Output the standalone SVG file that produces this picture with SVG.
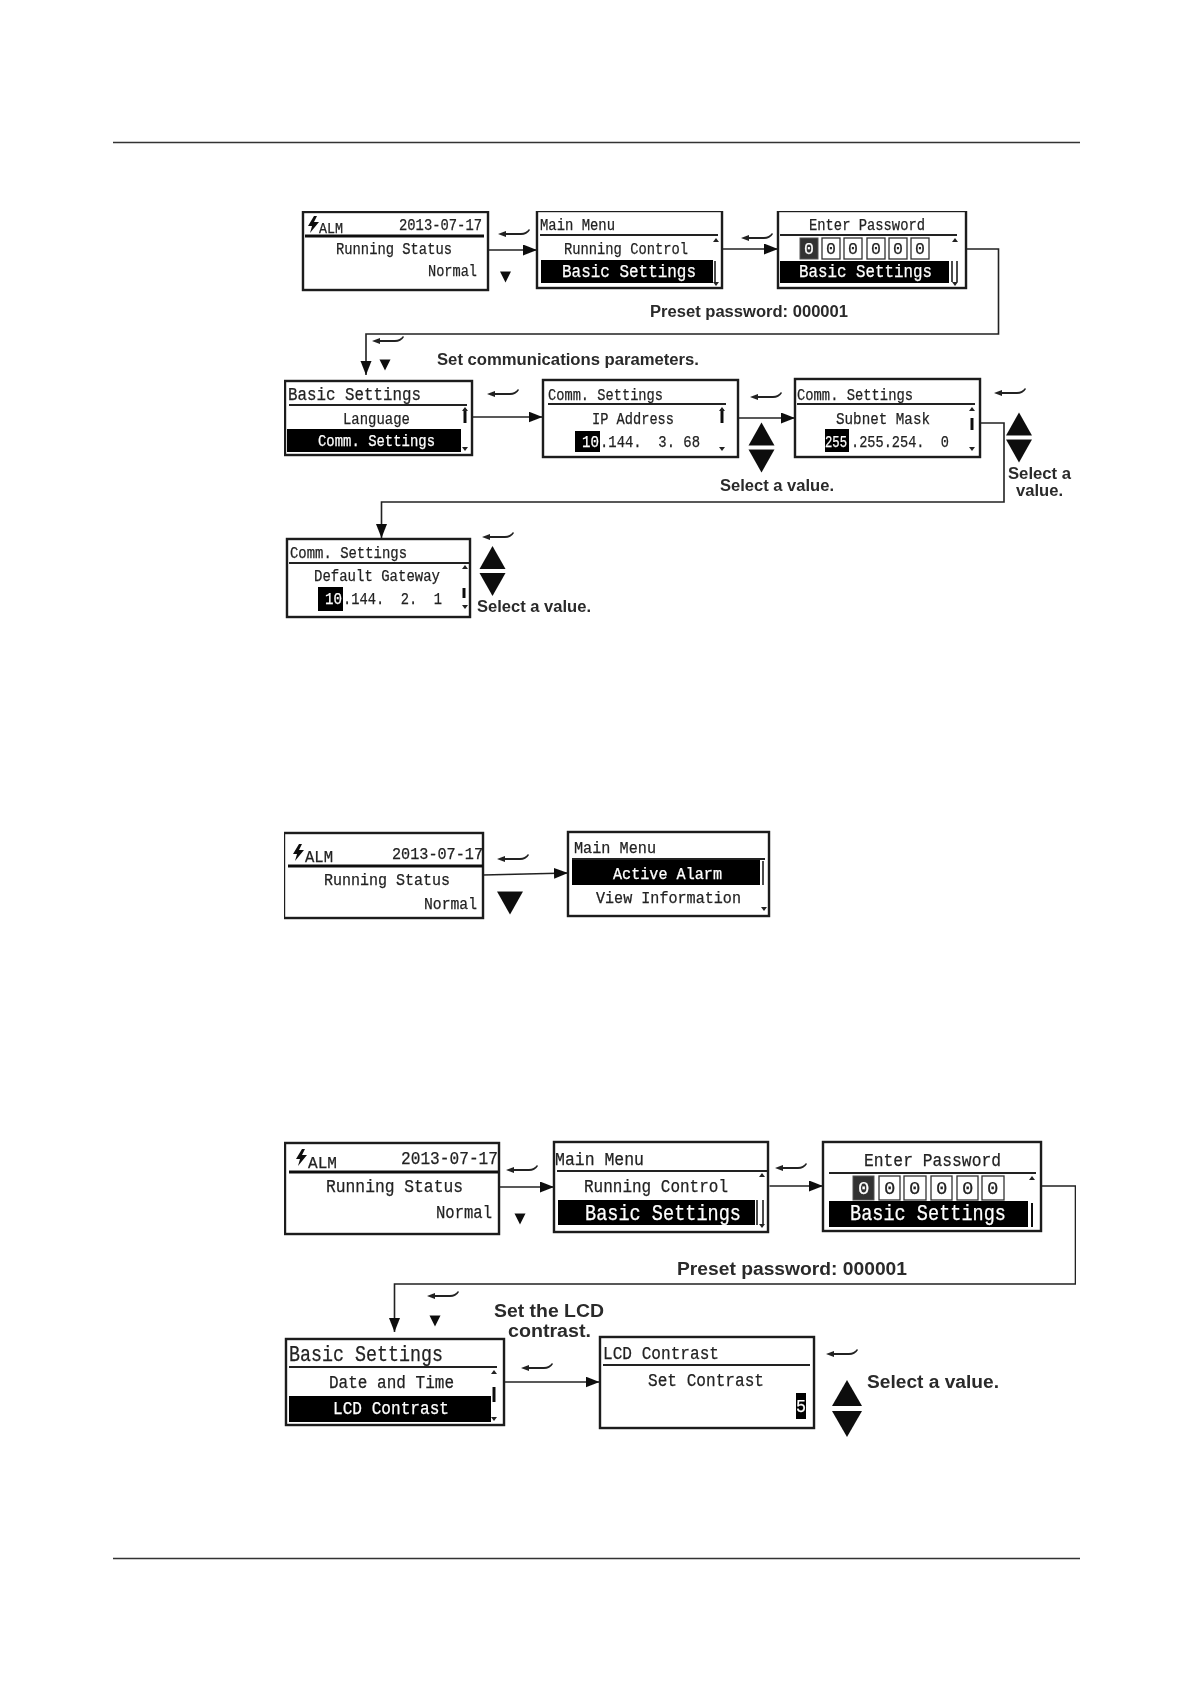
<svg xmlns="http://www.w3.org/2000/svg" width="1191" height="1684" viewBox="0 0 1191 1684">
<style>
.b{fill:#fff;stroke:#1a1a1a;stroke-width:2.4}
.d{stroke:#222;stroke-width:1.8;fill:none}
.dk{stroke:#111;stroke-width:3;fill:none}
.h{fill:#050505;stroke:none}
.t{font-family:"Liberation Mono",monospace;font-size:16.5px;fill:#222;stroke:#222;stroke-width:.25}
.tl{font-family:"Liberation Mono",monospace;font-size:19px;fill:#222;stroke:#222;stroke-width:.25}
.w{fill:#fff;stroke:#fff}
.l{font-family:"Liberation Sans",Arial,sans-serif;font-weight:700;font-size:16px;fill:#2a2a2a}
.c{fill:none;stroke:#222;stroke-width:1.6}
.dg{fill:#fff;stroke:#333;stroke-width:1.3}
.bar{stroke:#111;stroke-width:3;fill:none}
</style>
<defs>
<marker id="a" markerUnits="userSpaceOnUse" markerWidth="15" markerHeight="12" refX="14" refY="5.500" orient="auto"><path d="M0 0L14 5.500L0 11Z" fill="#111"/></marker>
<path id="hook" d="M0 5L8 2V4H23Q28 4 31 0L32 1Q29 6 23 6H8V8Z" fill="#222"/>
<path id="td" d="M-5.500 -5.500H5.500L0 5.500Z" fill="#111"/>
<path id="bu" d="M-13 11L0 -12L13 11Z" fill="#111"/>
<path id="bd" d="M-13 -11H13L0 12Z" fill="#111"/>
<path id="bu2" d="M-15 13L0 -13L15 13Z" fill="#111"/>
<path id="bd2" d="M-15 -13H15L0 13Z" fill="#111"/>
<path id="su" d="M-3 2L0 -2L3 2Z" fill="#222"/>
<path id="sd" d="M-3 -2H3L0 2Z" fill="#222"/>
<path id="bolt" d="M6 0L0 10H4L2 17L11 6H6L9 0Z" fill="#111"/>
<filter id="soft" x="0" y="0" width="100%" height="100%"><feGaussianBlur stdDeviation="0.4"/></filter>
</defs>
<rect width="1191" height="1684" fill="#fff"/>
<g id="page-rules"><path d="M113 142.500H1080M113 1558.500H1080" stroke="#333" stroke-width="1.300" fill="none"/></g>
<g filter="url(#soft)">
<g id="connectors">
<path class="c" d="M488 250H537" marker-end="url(#a)"/>
<path class="c" d="M722 249H778" marker-end="url(#a)"/>
<path class="c" d="M962 249H998.500V334H366V375" marker-end="url(#a)"/>
<path class="c" d="M472 417H542.500" marker-end="url(#a)"/>
<path class="c" d="M738 418H795" marker-end="url(#a)"/>
<path class="c" d="M980 423H1004V502H381.500V538" marker-end="url(#a)"/>
<path class="c" d="M483 875L568 873" marker-end="url(#a)"/>
<path class="c" d="M499 1187H554" marker-end="url(#a)"/>
<path class="c" d="M769.500 1186H823" marker-end="url(#a)"/>
<path class="c" d="M1039 1186H1075.500V1284H394.500V1332" marker-end="url(#a)"/>
<path class="c" d="M504 1382H599.500" marker-end="url(#a)"/>
</g>
<g id="key-symbols">
<use href="#hook" x="498" y="229"/><use href="#td" x="505.500" y="277"/>
<use href="#hook" x="741" y="233"/>
<use href="#hook" x="372" y="336"/><use href="#td" x="385" y="365"/>
<use href="#hook" x="487" y="389"/>
<use href="#hook" x="750" y="392"/><use href="#bu" x="761.500" y="434.500"/><use href="#bd" x="761.500" y="460.500"/>
<use href="#hook" x="994" y="388"/><use href="#bu" x="1019" y="424.500"/><use href="#bd" x="1019" y="450.500"/>
<use href="#hook" x="482" y="532"/><use href="#bu" x="492.500" y="558"/><use href="#bd" x="492.500" y="584"/>
<use href="#hook" x="497" y="854"/><use href="#bd" x="510" y="902.500"/>
<use href="#hook" x="506" y="1165"/><use href="#td" x="520" y="1219"/>
<use href="#hook" x="775" y="1163"/>
<use href="#hook" x="427" y="1291"/><use href="#td" x="435" y="1321"/>
<use href="#hook" x="521" y="1363"/>
<use href="#hook" x="826" y="1349"/><use href="#bu2" x="847" y="1393"/><use href="#bd2" x="847" y="1424"/>
</g>
<g id="labels">
<text class="l" x="650" y="317" textLength="198" lengthAdjust="spacingAndGlyphs">Preset password: 000001</text>
<text class="l" x="437" y="365" textLength="262" lengthAdjust="spacingAndGlyphs">Set communications parameters.</text>
<text class="l" x="720" y="491" textLength="114" lengthAdjust="spacingAndGlyphs">Select a value.</text>
<text class="l" x="1008" y="479" textLength="63" lengthAdjust="spacingAndGlyphs">Select a</text>
<text class="l" x="1016" y="496" textLength="47" lengthAdjust="spacingAndGlyphs">value.</text>
<text class="l" x="477" y="612" textLength="114" lengthAdjust="spacingAndGlyphs">Select a value.</text>
<text class="l" x="677" y="1275" textLength="230" lengthAdjust="spacingAndGlyphs" style="font-size:18px">Preset password: 000001</text>
<text class="l" x="494" y="1317" textLength="110" lengthAdjust="spacingAndGlyphs" style="font-size:18px">Set the LCD</text>
<text class="l" x="508" y="1337" textLength="83" lengthAdjust="spacingAndGlyphs" style="font-size:18px">contrast.</text>
<text class="l" x="867" y="1388" textLength="132" lengthAdjust="spacingAndGlyphs" style="font-size:18px">Select a value.</text>
</g>
<g id="n1">
<rect class="b" x="303" y="212" width="185" height="78"/>
<use href="#bolt" x="308" y="216"/>
<text class="t" x="319" y="233" textLength="24" lengthAdjust="spacingAndGlyphs" style="font-size:14px">ALM</text>
<text class="t" x="399" y="230" textLength="83" lengthAdjust="spacingAndGlyphs">2013-07-17</text>
<path class="dk" d="M305 236H484"/>
<text class="t" x="336" y="254" textLength="116" lengthAdjust="spacingAndGlyphs">Running Status</text>
<text class="t" x="428" y="276" textLength="49" lengthAdjust="spacingAndGlyphs">Normal</text>
</g>
<g id="n2">
<rect class="b" x="537" y="211" width="185" height="77"/>
<text class="t" x="540" y="230" textLength="75" lengthAdjust="spacingAndGlyphs">Main Menu</text>
<path class="d" d="M540 235H718"/>
<text class="t" x="564" y="254" textLength="124" lengthAdjust="spacingAndGlyphs">Running Control</text>
<rect class="h" x="541" y="260" width="172" height="23"/>
<text class="tl w" x="562" y="277" textLength="134" lengthAdjust="spacingAndGlyphs">Basic Settings</text>
<use href="#su" x="716" y="240"/><path class="bar" d="M715 261V282" style="stroke-width:1.500"/><use href="#sd" x="716" y="284"/>
</g>
<g id="n3">
<rect class="b" x="778" y="211" width="188" height="77"/>
<text class="t" x="809" y="230" textLength="116" lengthAdjust="spacingAndGlyphs">Enter Password</text>
<path class="d" d="M780 235H957"/>
<rect x="800" y="238" width="18" height="21" fill="#333" stroke="#555"/>
<rect class="dg" x="822" y="238" width="18" height="21"/><rect class="dg" x="844" y="238" width="18" height="21"/><rect class="dg" x="867" y="238" width="18" height="21"/><rect class="dg" x="889" y="238" width="18" height="21"/><rect class="dg" x="911" y="238" width="18" height="21"/>
<text class="t w" x="804" y="254">0</text><text class="t" x="826" y="254">0</text><text class="t" x="848" y="254">0</text><text class="t" x="871" y="254">0</text><text class="t" x="893" y="254">0</text><text class="t" x="915" y="254">0</text>
<rect class="h" x="780" y="261" width="169" height="22"/>
<text class="tl w" x="799" y="277" textLength="133" lengthAdjust="spacingAndGlyphs">Basic Settings</text>
<use href="#su" x="955" y="240"/><path class="bar" d="M952 261V282M957 261V282" style="stroke-width:1.500"/><use href="#sd" x="955" y="284"/>
</g>
<g id="n4">
<rect class="b" x="285" y="381" width="187" height="74"/>
<text class="tl" x="288" y="400" textLength="133" lengthAdjust="spacingAndGlyphs">Basic Settings</text>
<path class="d" d="M289 405H467"/>
<text class="t" x="343" y="424" textLength="67" lengthAdjust="spacingAndGlyphs">Language</text>
<rect class="h" x="287" y="429" width="174" height="23"/>
<text class="t w" x="318" y="446" textLength="117" lengthAdjust="spacingAndGlyphs">Comm. Settings</text>
<path class="bar" d="M465 409V423"/><use href="#su" x="465" y="409"/><use href="#sd" x="465" y="449"/>
</g>
<g id="n5">
<rect class="b" x="543" y="380" width="195" height="77"/>
<text class="t" x="548" y="400" textLength="115" lengthAdjust="spacingAndGlyphs">Comm. Settings</text>
<path class="d" d="M548 404H726"/>
<text class="t" x="592" y="424" textLength="82" lengthAdjust="spacingAndGlyphs">IP Address</text>
<rect class="h" x="575" y="431" width="25" height="21"/>
<text class="t w" x="582" y="447" textLength="17" lengthAdjust="spacingAndGlyphs">10</text>
<text class="t" x="600" y="447" textLength="100" lengthAdjust="spacingAndGlyphs" xml:space="preserve">.144.  3. 68</text>
<path class="bar" d="M722 409V423"/><use href="#su" x="722" y="409"/><use href="#sd" x="722" y="449"/>
</g>
<g id="n6">
<rect class="b" x="795" y="379" width="185" height="78"/>
<text class="t" x="797" y="400" textLength="116" lengthAdjust="spacingAndGlyphs">Comm. Settings</text>
<path class="d" d="M797 404H975"/>
<text class="t" x="836" y="424" textLength="94" lengthAdjust="spacingAndGlyphs">Subnet Mask</text>
<rect class="h" x="825" y="429" width="24" height="23"/>
<text class="t w" x="825" y="447" textLength="22" lengthAdjust="spacingAndGlyphs">255</text>
<text class="t" x="851" y="447" textLength="98" lengthAdjust="spacingAndGlyphs" xml:space="preserve">.255.254.  0</text>
<use href="#su" x="972" y="409"/><path class="bar" d="M972 418V430"/><use href="#sd" x="972" y="449"/>
</g>
<g id="n7">
<rect class="b" x="287" y="539" width="183" height="78"/>
<text class="t" x="290" y="558" textLength="117" lengthAdjust="spacingAndGlyphs">Comm. Settings</text>
<path class="d" d="M289 563H469"/>
<text class="t" x="314" y="581" textLength="126" lengthAdjust="spacingAndGlyphs">Default Gateway</text>
<rect class="h" x="318" y="587" width="25" height="24"/>
<text class="t w" x="325" y="604" textLength="17" lengthAdjust="spacingAndGlyphs">10</text>
<text class="t" x="343" y="604" textLength="99" lengthAdjust="spacingAndGlyphs" xml:space="preserve">.144.  2.  1</text>
<use href="#su" x="465" y="567"/><path class="bar" d="M464 588V598"/><use href="#sd" x="465" y="607"/>
</g>
<g id="n8">
<rect class="b" x="284" y="833" width="199" height="85"/>
<use href="#bolt" x="293" y="844"/>
<text class="t" x="305" y="862" textLength="28" lengthAdjust="spacingAndGlyphs">ALM</text>
<text class="t" x="392" y="859" textLength="91" lengthAdjust="spacingAndGlyphs">2013-07-17</text>
<path class="dk" d="M288 866H483"/>
<text class="t" x="324" y="885" textLength="126" lengthAdjust="spacingAndGlyphs">Running Status</text>
<text class="t" x="424" y="909" textLength="53" lengthAdjust="spacingAndGlyphs">Normal</text>
</g>
<g id="n9">
<rect class="b" x="568" y="832" width="201" height="84"/>
<text class="t" x="574" y="853" textLength="82" lengthAdjust="spacingAndGlyphs">Main Menu</text>
<path class="d" d="M572 859H765"/>
<rect class="h" x="572" y="860" width="188" height="25"/>
<text class="t w" x="613" y="879" textLength="109" lengthAdjust="spacingAndGlyphs">Active Alarm</text>
<text class="t" x="596" y="903" textLength="145" lengthAdjust="spacingAndGlyphs">View Information</text>
<path class="bar" d="M763 861V885" style="stroke-width:1.500"/><use href="#sd" x="764" y="909"/>
</g>
<g id="n10">
<rect class="b" x="285" y="1143" width="214" height="91"/>
<use href="#bolt" x="296" y="1149"/>
<text class="t" x="308" y="1168" textLength="29" lengthAdjust="spacingAndGlyphs">ALM</text>
<text class="tl" x="401" y="1164" textLength="97" lengthAdjust="spacingAndGlyphs">2013-07-17</text>
<path class="dk" d="M289 1172H498"/>
<text class="tl" x="326" y="1192" textLength="137" lengthAdjust="spacingAndGlyphs">Running Status</text>
<text class="tl" x="436" y="1218" textLength="56" lengthAdjust="spacingAndGlyphs">Normal</text>
</g>
<g id="n11">
<rect class="b" x="554" y="1142" width="214" height="90"/>
<text class="tl" x="555" y="1165" textLength="89" lengthAdjust="spacingAndGlyphs">Main Menu</text>
<path class="d" d="M557 1171H767"/>
<text class="tl" x="584" y="1192" textLength="144" lengthAdjust="spacingAndGlyphs">Running Control</text>
<rect class="h" x="558" y="1200" width="197" height="25"/>
<text class="tl w" x="585" y="1220" textLength="156" lengthAdjust="spacingAndGlyphs" style="font-size:22px">Basic Settings</text>
<use href="#su" x="762" y="1175"/><path class="bar" d="M757 1200V1225M763 1200V1225" style="stroke-width:1.500"/><use href="#sd" x="762" y="1226"/>
</g>
<g id="n12">
<rect class="b" x="823" y="1142" width="218" height="89"/>
<text class="tl" x="864" y="1166" textLength="137" lengthAdjust="spacingAndGlyphs">Enter Password</text>
<path class="d" d="M829 1173H1036"/>
<rect x="853" y="1176" width="21" height="24" fill="#333" stroke="#555"/>
<rect class="dg" x="879" y="1176" width="21" height="24"/><rect class="dg" x="904" y="1176" width="22" height="24"/><rect class="dg" x="931" y="1176" width="21" height="24"/><rect class="dg" x="957" y="1176" width="21" height="24"/><rect class="dg" x="982" y="1176" width="22" height="24"/>
<text class="tl w" x="858" y="1194">0</text><text class="tl" x="884" y="1194">0</text><text class="tl" x="909" y="1194">0</text><text class="tl" x="936" y="1194">0</text><text class="tl" x="962" y="1194">0</text><text class="tl" x="987" y="1194">0</text>
<rect class="h" x="829" y="1201" width="199" height="26"/>
<text class="tl w" x="850" y="1220" textLength="156" lengthAdjust="spacingAndGlyphs" style="font-size:22px">Basic Settings</text>
<use href="#su" x="1032" y="1178"/><path class="bar" d="M1032 1203V1227" style="stroke-width:2"/>
</g>
<g id="n13">
<rect class="b" x="286" y="1339" width="218" height="86"/>
<text class="tl" x="289" y="1361" textLength="154" lengthAdjust="spacingAndGlyphs" style="font-size:22px">Basic Settings</text>
<path class="d" d="M289 1367H497"/>
<text class="tl" x="329" y="1388" textLength="125" lengthAdjust="spacingAndGlyphs">Date and Time</text>
<rect class="h" x="289" y="1396" width="202" height="26"/>
<text class="tl w" x="333" y="1414" textLength="116" lengthAdjust="spacingAndGlyphs">LCD Contrast</text>
<use href="#su" x="494" y="1372"/><path class="bar" d="M494 1387V1402"/><use href="#sd" x="494" y="1419"/>
</g>
<g id="n14">
<rect class="b" x="600" y="1337" width="214" height="91"/>
<text class="tl" x="603" y="1359" textLength="116" lengthAdjust="spacingAndGlyphs">LCD Contrast</text>
<path class="d" d="M603 1365H810"/>
<text class="tl" x="648" y="1386" textLength="116" lengthAdjust="spacingAndGlyphs">Set Contrast</text>
<rect class="h" x="796" y="1393" width="10" height="26"/>
<text class="tl w" x="796" y="1412" textLength="10" lengthAdjust="spacingAndGlyphs">5</text>
</g>
</g>
</svg>
